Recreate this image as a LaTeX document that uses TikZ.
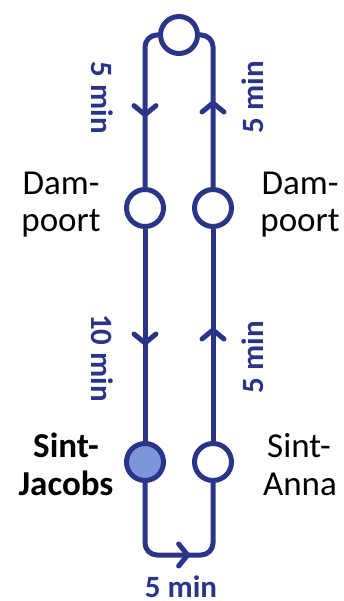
\documentclass[tikz,border=0pt]{standalone}
\usepackage{fontspec}
\setmainfont{Carlito}
\usetikzlibrary{arrows.meta,decorations.markings}
\definecolor{route}{RGB}{42,53,135}
\definecolor{stopfill}{RGB}{123,150,218}
\tikzset{
  routeline/.style={draw=route,line width=5pt},
  arrowat/.style={postaction={decorate,decoration={markings,
      mark=at position #1 with {\arrow[route,line width=5pt]{Straight Barb[length=9pt,width=22pt,round]}}}}},
  stopnode/.style={circle,draw=route,line width=5pt,fill=white,minimum size=37pt,inner sep=0pt},
  station/.style={font=\fontsize{35}{40}\selectfont,anchor=base,inner sep=0pt},
  timelbl/.style={font=\bfseries\fontsize{31}{36}\selectfont,text=route,inner sep=0pt},
}
\begin{document}
\begin{tikzpicture}[x=1pt,y=-1pt]
\useasboundingbox (0,0) rectangle (344,601);
% stops
\node[stopnode] (top) at (179,35) {};
\node[stopnode] (dL) at (145,208) {};
\node[stopnode] (dR) at (213,208) {};
\node[stopnode,fill=stopfill] (sjL) at (145,462) {};
\node[stopnode] (saR) at (213,462) {};
% route
\draw[routeline,rounded corners=12pt,arrowat=90pt] (top.west) -| (dL.north);
\draw[routeline,arrowat=116.5pt] (dL.south) -- (sjL.north);
\coordinate (br) at (213,555);
\draw[routeline,rounded corners=12pt,arrowat=112pt] (sjL.south) |- (br) -- (saR.south);
\draw[routeline,arrowat=113.5pt] (saR.north) -- (dR.south);
\draw[routeline,rounded corners=12pt,arrowat=86.5pt] (dR.north) |- (top.east);
% times
\node[timelbl,rotate=-90] (t1) at (102.5,98) {5 min};
\node[timelbl,rotate=90] (t2) at (253,97) {5 min};
\node[timelbl,rotate=-90] (t3) at (102.5,358) {10 min};
\node[timelbl,rotate=90] (t4) at (253,357) {5 min};
\node[timelbl] (t5) at (181,587) {5 min};
% stations
\node[station] (dpL1) at (61,195) {Dam-};
\node[station] (dpL2) at (61,232) {poort};
\node[station] (dpR1) at (300,195) {Dam-};
\node[station] (dpR2) at (300,232) {poort};
\node[station,font=\bfseries\fontsize{35}{40}\selectfont] (sj1) at (66,457) {Sint-};
\node[station,font=\bfseries\fontsize{35}{40}\selectfont] (sj2) at (66,495) {Jacobs};
\node[station] (sa1) at (299,457) {Sint-};
\node[station] (sa2) at (300,495) {Anna};
\end{tikzpicture}
\end{document}
